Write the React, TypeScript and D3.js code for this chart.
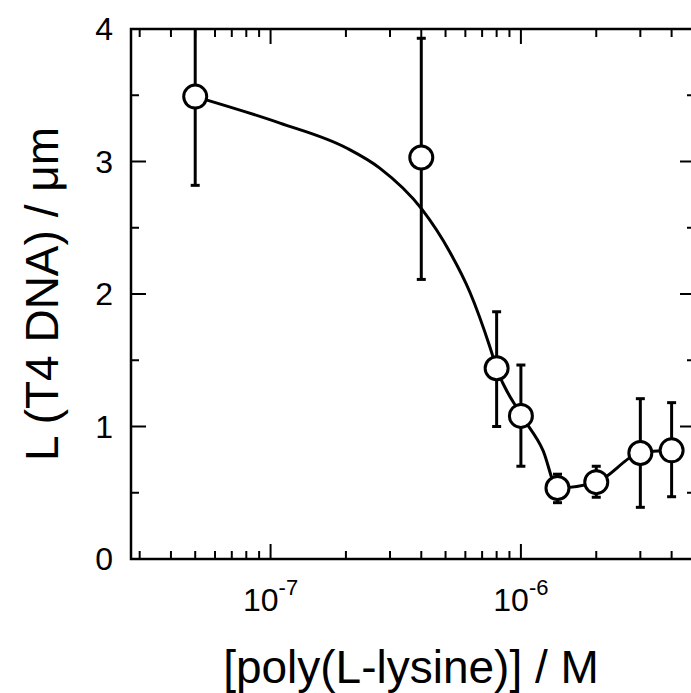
import React from "react";
import * as d3 from "d3";

// Measured data points
const concentrations = [5e-8, 4e-7, 8e-7, 1e-6, 1.4e-6, 2e-6, 3e-6, 4e-6];
const lengths = [3.49, 3.03, 1.44, 1.08, 0.536, 0.58, 0.8, 0.82];
const errLow = [2.82, 2.11, 1.0, 0.7, 0.425, 0.466, 0.39, 0.47];
const errHigh = [4.17, 3.93, 1.866, 1.464, 0.64, 0.7, 1.21, 1.18];

// Fitted / guide curve
const curveX = [5e-8, 1.09e-7, 2.02e-7, 2.73e-7, 4.02e-7, 5.2e-7, 6.25e-7, 7.52e-7, 8e-7, 1e-6, 1.225e-6, 1.4e-6, 2e-6, 3e-6, 4e-6];
const curveY = [3.49, 3.29, 3.1, 2.95, 2.64, 2.317, 2.015, 1.6, 1.44, 1.09, 0.82, 0.536, 0.58, 0.8, 0.82];

const yTicks = [0, 1, 2, 3, 4];
const yMinorTicks = [0.5, 1.5, 2.5, 3.5];
const xMajorTicks = [1e-7, 1e-6];
const xMajorExp = ["-7", "-6"];
const xMinorTicks = [3e-8, 4e-8, 5e-8, 6e-8, 7e-8, 8e-8, 9e-8, 2e-7, 3e-7, 4e-7, 5e-7, 6e-7, 7e-7, 8e-7, 9e-7, 2e-6, 3e-6, 4e-6];

const W = 691;
const H = 693;
const left = 131;
const right = 695;
const top = 29;
const bottom = 559;

export default function App() {
  const x = d3.scaleLog().domain([2.77e-8, 4.96e-6]).range([left, right]);
  const y = d3.scaleLinear().domain([0, 4]).range([bottom, top]);

  const line = d3
    .line<number>()
    .x((_, i) => x(curveX[i]))
    .y((_, i) => y(curveY[i]))
    .curve(d3.curveMonotoneX);

  const font = "Liberation Sans, Arial, sans-serif";
  const majorLen = 15;
  const minorLen = 8;

  return (
    <svg
      width={W}
      height={H}
      style={{ position: "absolute", left: 0, top: 0, background: "#fff" }}
      fontFamily={font}
    >
      <defs>
        <clipPath id="plotclip">
          <rect x={left} y={top} width={right - left} height={bottom - top} />
        </clipPath>
      </defs>
      <rect x={0} y={0} width={W} height={H} fill="#fff" />

      {/* frame */}
      <rect
        x={left}
        y={top}
        width={right - left}
        height={bottom - top}
        fill="none"
        stroke="#000"
        strokeWidth={2.5}
      />

      {/* y ticks */}
      {yTicks.map((t) => (
        <g key={"y" + t}>
          <line x1={left} x2={left + majorLen} y1={y(t)} y2={y(t)} stroke="#000" strokeWidth={2} />
          <line x1={right} x2={right - majorLen} y1={y(t)} y2={y(t)} stroke="#000" strokeWidth={2} />
          <text x={113} y={y(t) + 11} textAnchor="end" fontSize={32} fill="#000">
            {t}
          </text>
        </g>
      ))}
      {yMinorTicks.map((t) => (
        <g key={"ym" + t}>
          <line x1={left} x2={left + minorLen} y1={y(t)} y2={y(t)} stroke="#000" strokeWidth={2} />
          <line x1={right} x2={right - minorLen} y1={y(t)} y2={y(t)} stroke="#000" strokeWidth={2} />
        </g>
      ))}

      {/* x ticks */}
      {xMajorTicks.map((t, i) => (
        <g key={"x" + t}>
          <line x1={x(t)} x2={x(t)} y1={bottom} y2={bottom - majorLen} stroke="#000" strokeWidth={2} />
          <line x1={x(t)} x2={x(t)} y1={top} y2={top + majorLen} stroke="#000" strokeWidth={2} />
          <text x={x(t)} y={611} textAnchor="middle" fontSize={32} fill="#000">
            10
            <tspan dy={-16} fontSize={22}>
              {xMajorExp[i]}
            </tspan>
          </text>
        </g>
      ))}
      {xMinorTicks.map((t) => (
        <g key={"xm" + t}>
          <line x1={x(t)} x2={x(t)} y1={bottom} y2={bottom - minorLen} stroke="#000" strokeWidth={2} />
          <line x1={x(t)} x2={x(t)} y1={top} y2={top + minorLen} stroke="#000" strokeWidth={2} />
        </g>
      ))}

      <g clipPath="url(#plotclip)">
        {/* curve */}
        <path d={line(curveX) || ""} fill="none" stroke="#000" strokeWidth={3} />

        {/* error bars */}
        {concentrations.map((c, i) => (
          <g key={"e" + i} stroke="#000" strokeWidth={3}>
            <line x1={x(c)} x2={x(c)} y1={y(errLow[i])} y2={y(errHigh[i])} />
            <line x1={x(c) - 4.5} x2={x(c) + 4.5} y1={y(errLow[i])} y2={y(errLow[i])} />
            <line x1={x(c) - 4.5} x2={x(c) + 4.5} y1={y(errHigh[i])} y2={y(errHigh[i])} />
          </g>
        ))}

        {/* points */}
        {concentrations.map((c, i) => (
          <circle
            key={"p" + i}
            cx={x(c)}
            cy={y(lengths[i])}
            r={11.5}
            fill="#fff"
            stroke="#000"
            strokeWidth={3}
          />
        ))}
      </g>

      {/* axis titles */}
      <text x={411} y={683} textAnchor="middle" fontSize={46} fill="#000">
        [poly(L-lysine)] / M
      </text>
      <text
        transform={`translate(58, ${(top + bottom) / 2}) rotate(-90)`}
        textAnchor="middle"
        fontSize={46}
        fill="#000"
      >
        L (T4 DNA) / μm
      </text>
    </svg>
  );
}
